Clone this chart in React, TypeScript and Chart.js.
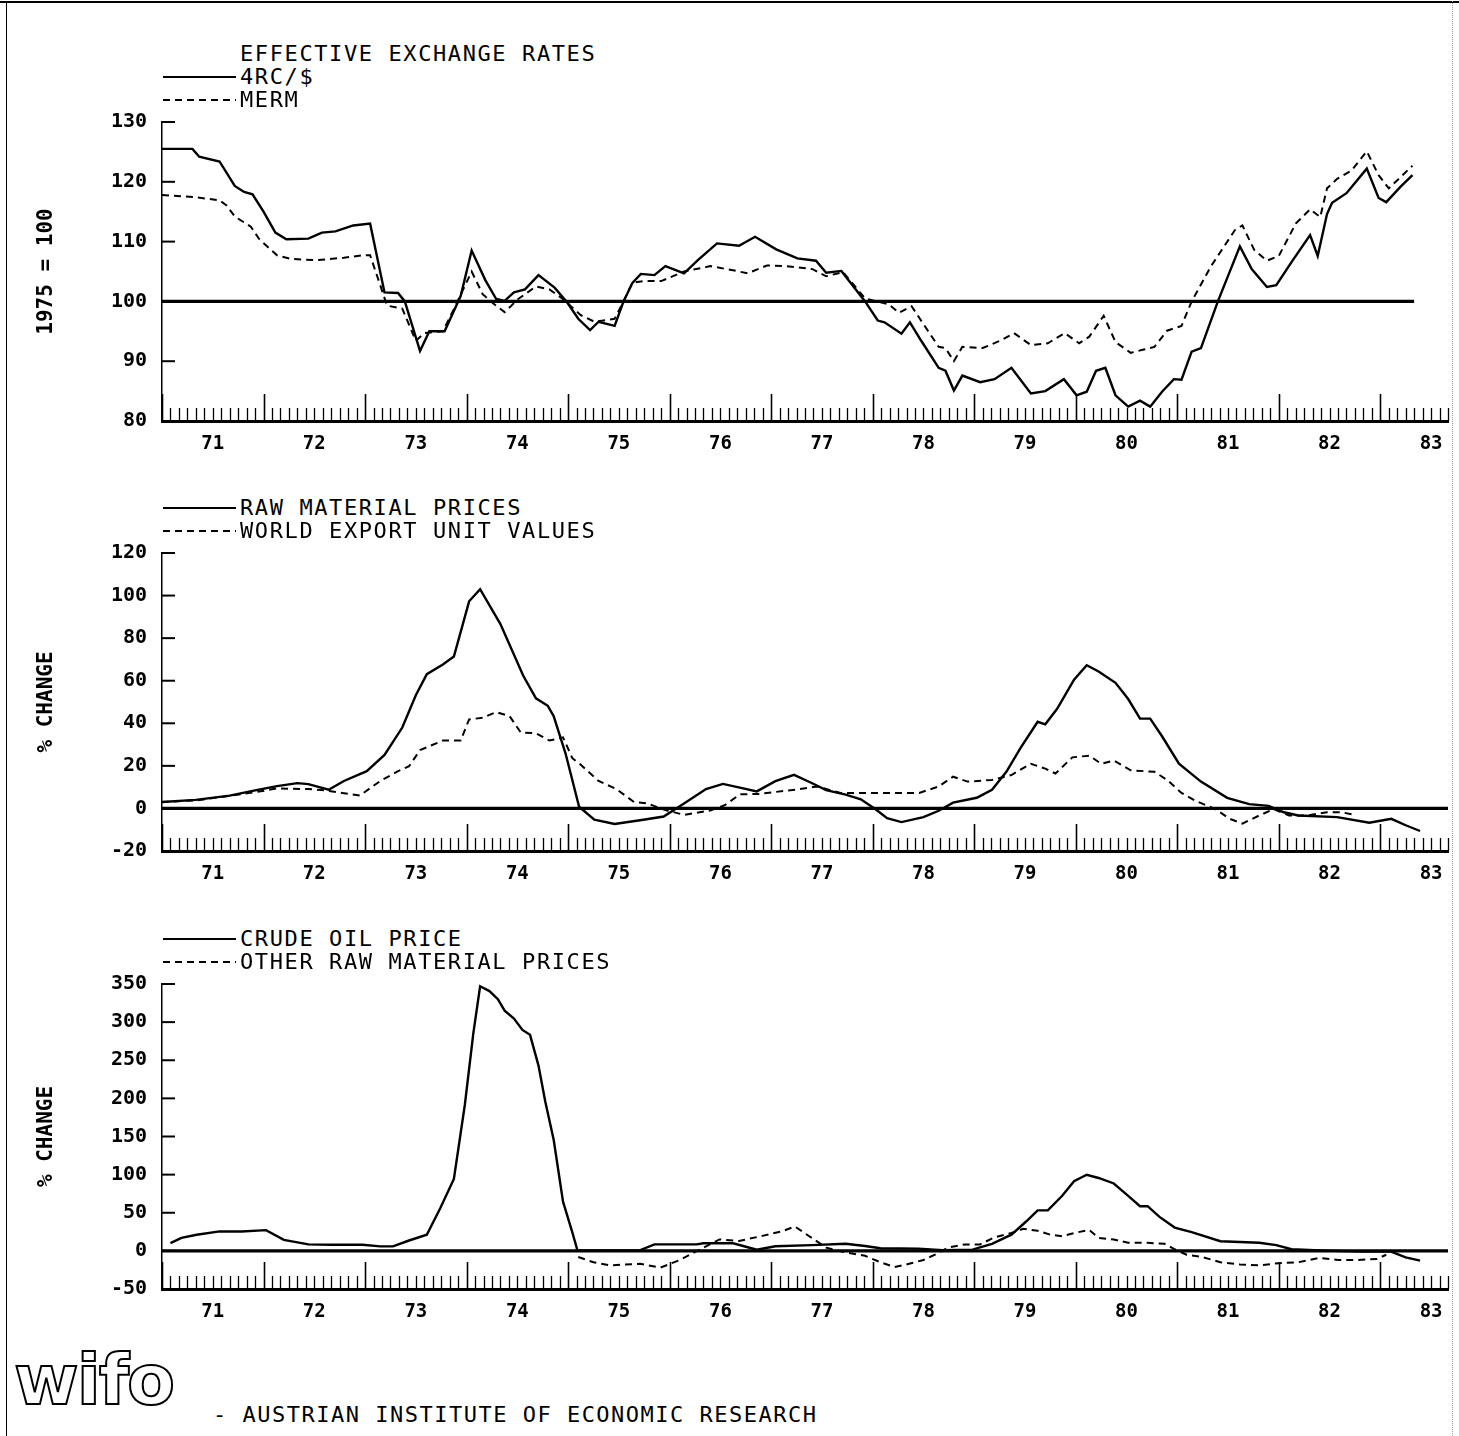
import React, { useEffect, useRef } from 'react';
import { Chart, registerables } from 'chart.js';

Chart.register(...registerables);

const FONT = '"DejaVu Sans Mono", "Liberation Mono", monospace';

// ---- x axis: months since January 1971 ----
const yearLabels = ['71', '72', '73', '74', '75', '76', '77', '78', '79', '80', '81', '82', '83'];
const xMaxMonth = 152;

// ---- Panel 1: effective exchange rates (1975 = 100) ----
const rcMonths = [0, 3.6, 4.4, 6.8, 8.6, 9.7, 10.7, 12.0, 13.4, 14.7, 17.3, 18.9, 20.5, 22.6, 24.6, 26.3, 27.9, 28.7, 30.5, 31.6, 33.4, 35.3, 36.6, 38.2, 39.5, 40.5, 41.6, 42.9, 44.5, 46.4, 47.9, 49.2, 50.6, 51.6, 53.5, 54.5, 55.6, 56.6, 58.2, 59.5, 61.7, 63.4, 65.6, 68.2, 70.1, 72.6, 75.1, 77.3, 78.5, 80.3, 83.1, 84.6, 85.4, 87.4, 88.4, 89.7, 91.8, 92.6, 93.6, 94.6, 96.7, 98.4, 100.4, 102.7, 104.4, 106.6, 108.1, 109.3, 110.4, 111.5, 112.7, 114.2, 115.6, 116.8, 118.2, 119.6, 120.5, 121.7, 122.8, 124.8, 127.4, 128.8, 130.6, 131.7, 133.7, 135.7, 136.6, 137.7, 138.3, 140.0, 142.4, 143.8, 144.7, 146.4, 147.8];
const rcValues = [125.5, 125.5, 124.2, 123.4, 119.3, 118.3, 117.9, 115.0, 111.5, 110.4, 110.5, 111.5, 111.7, 112.7, 113.0, 101.5, 101.4, 100.0, 91.7, 95.0, 95.0, 100.9, 108.5, 103.6, 100.4, 100.1, 101.5, 102.0, 104.4, 102.3, 99.8, 97.1, 95.2, 96.6, 95.9, 99.8, 103.1, 104.6, 104.4, 105.9, 104.7, 107.0, 109.7, 109.3, 110.8, 108.7, 107.2, 106.8, 104.8, 105.1, 100.0, 96.8, 96.5, 94.6, 96.5, 93.5, 88.9, 88.4, 85.1, 87.6, 86.5, 87.0, 88.9, 84.6, 85.0, 87.0, 84.3, 84.9, 88.4, 88.9, 84.3, 82.4, 83.4, 82.4, 84.9, 87.0, 86.9, 91.6, 92.2, 100.0, 109.2, 105.4, 102.4, 102.7, 107.0, 111.1, 107.6, 114.6, 116.5, 118.1, 122.2, 117.3, 116.6, 119.2, 121.1];

const mermMonths = [0, 4.1, 6.8, 7.6, 8.6, 10.5, 11.5, 13.6, 15.2, 18.4, 21.5, 23.7, 24.6, 25.2, 26.6, 28.4, 30.0, 31.0, 33.2, 34.7, 36.6, 37.9, 39.2, 40.5, 42.1, 44.2, 45.8, 47.4, 49.5, 51.1, 53.5, 54.3, 55.6, 56.9, 59.0, 61.7, 64.8, 67.5, 69.2, 71.5, 73.8, 76.9, 78.5, 80.5, 83.1, 85.9, 87.1, 88.6, 90.0, 91.8, 92.6, 93.6, 94.6, 97.0, 99.2, 100.7, 102.7, 104.7, 106.7, 108.4, 109.6, 111.3, 112.7, 114.5, 115.9, 117.3, 118.8, 120.5, 121.7, 124.0, 126.8, 127.7, 129.1, 130.6, 132.0, 134.0, 135.7, 136.9, 137.7, 138.9, 140.6, 142.4, 143.8, 145.0, 146.4, 147.8];
const mermValues = [117.8, 117.4, 116.9, 116.1, 114.2, 112.5, 110.4, 107.7, 107.1, 106.9, 107.3, 107.7, 107.7, 105.2, 99.3, 98.8, 93.4, 94.7, 95.0, 99.3, 105.0, 101.2, 99.6, 98.2, 100.4, 102.5, 102.0, 100.4, 97.7, 96.6, 97.1, 99.3, 103.1, 103.4, 103.4, 105.0, 105.9, 105.2, 104.7, 106.0, 105.9, 105.4, 104.2, 104.9, 100.5, 99.5, 98.1, 99.2, 96.2, 92.4, 92.2, 90.0, 92.4, 92.2, 93.5, 94.7, 92.7, 93.0, 94.7, 93.0, 94.1, 97.6, 93.2, 91.4, 91.9, 92.4, 95.1, 95.9, 100.0, 105.9, 111.9, 112.7, 108.6, 106.8, 107.6, 113.0, 115.4, 114.1, 118.9, 120.5, 121.9, 125.1, 121.1, 118.9, 120.8, 122.7];

const ref1Months = [0, 148];
const ref1Level = 100;

// ---- Panel 2: raw material prices vs world export unit values (% change) ----
const rawMonths = [0, 4, 8, 11, 13.6, 16.0, 17.3, 19.7, 21.5, 24.2, 26.3, 28.4, 30.0, 31.3, 33.2, 34.5, 36.3, 37.6, 40.0, 42.7, 44.2, 45.6, 46.3, 47.7, 49.3, 51.1, 53.5, 56.9, 59.3, 61.7, 64.3, 66.3, 68.3, 70.3, 72.5, 74.7, 76.6, 78.5, 80.8, 82.6, 84.3, 85.7, 87.4, 90.0, 91.8, 93.5, 96.3, 98.1, 99.8, 101.5, 103.5, 104.4, 105.8, 107.8, 109.3, 110.7, 112.7, 114.2, 115.6, 116.8, 118.2, 120.2, 122.8, 125.9, 128.5, 130.8, 132.6, 134.3, 138.9, 142.7, 145.3, 147.0, 148.7];
const rawValues = [3, 4, 6, 8.5, 10.5, 11.9, 11.4, 8.8, 12.9, 17.5, 25.1, 38.0, 53.2, 63.1, 67.6, 71.4, 97.3, 103.0, 86.6, 62.3, 51.7, 48.2, 43.3, 25.8, 0.8, -5.3, -7.3, -5.3, -3.8, 2.3, 9.1, 11.5, 9.8, 8.0, 12.8, 15.8, 12.3, 8.6, 6.5, 4.3, -0.3, -4.6, -6.4, -4.1, -1.1, 2.7, 5.0, 8.8, 17.2, 28.6, 40.7, 39.5, 46.8, 60.5, 67.3, 64.3, 59.0, 51.4, 42.2, 42.2, 33.9, 21.0, 12.6, 5.0, 2.0, 1.2, -1.8, -3.3, -4.1, -6.7, -4.9, -7.9, -10.6];

const wuvMonths = [0, 4.1, 7.8, 11.0, 13.6, 17.3, 19.4, 21.3, 23.4, 25.8, 27.9, 29.2, 30.5, 33.2, 35.3, 36.3, 37.9, 39.5, 41.1, 42.4, 44.2, 45.8, 47.4, 48.5, 49.5, 51.6, 53.7, 55.8, 57.4, 59.5, 61.7, 64.8, 66.5, 68.3, 70.5, 75.0, 77.4, 80.2, 83.1, 86.6, 89.5, 91.8, 93.5, 95.2, 98.1, 100.4, 102.7, 104.4, 105.6, 107.6, 109.6, 111.0, 112.5, 114.5, 117.3, 118.8, 120.5, 122.2, 124.5, 126.2, 127.7, 129.7, 131.4, 133.2, 135.4, 137.7, 139.4, 141.0];
const wuvValues = [3.0, 3.8, 5.8, 7.6, 9.4, 9.1, 8.4, 7.3, 6.1, 12.9, 17.5, 19.8, 27.4, 31.9, 31.9, 41.8, 42.6, 45.3, 43.3, 35.7, 35.3, 31.9, 33.4, 23.6, 20.5, 12.9, 9.1, 3.0, 2.3, -0.8, -3.0, -1.0, 1.5, 6.6, 6.8, 8.9, 10.3, 7.3, 7.3, 7.3, 7.3, 10.3, 14.9, 12.6, 13.4, 15.7, 21.0, 18.7, 16.4, 24.0, 24.8, 21.0, 22.5, 17.9, 17.2, 13.4, 7.3, 3.5, -0.3, -4.9, -7.1, -3.3, -0.3, -3.3, -3.3, -1.8, -1.8, -3.0];

const ref2Months = [0, 152];
const ref2Level = 0;

// ---- Panel 3: crude oil price vs other raw material prices (% change) ----
const oilMonths = [1, 2.3, 4.1, 6.8, 9.4, 12.3, 14.4, 17.3, 20.0, 23.7, 25.8, 27.3, 29.2, 31.3, 32.9, 34.5, 35.8, 36.8, 37.6, 38.7, 39.7, 40.5, 41.6, 42.6, 43.5, 44.5, 45.3, 46.3, 47.4, 48.5, 49.1, 56.4, 58.2, 63.2, 64.0, 67.5, 70.3, 72.5, 76.8, 80.8, 83.1, 84.9, 89.4, 92.3, 95.8, 98.1, 100.4, 102.1, 103.5, 104.7, 106.4, 107.8, 109.3, 110.7, 112.5, 114.2, 115.6, 116.5, 117.9, 119.7, 121.7, 125.1, 129.7, 131.7, 133.5, 138.3, 141.8, 145.2, 147.0, 148.7];
const oilValues = [10.2, 17, 21.2, 25.5, 25.5, 27.2, 14.4, 8.5, 8.1, 8.1, 5.9, 5.9, 13.6, 21.2, 56.1, 94.3, 192, 285.5, 347, 340.7, 330, 315, 304.6, 289.7, 283.3, 243, 196, 145.3, 64.6, 24.2, 0.8, 0.5, 8.5, 8.5, 10, 10, 1.5, 6, 7.6, 9.3, 6.4, 3.4, 3, 0.8, 1.7, 9.3, 21.2, 38.2, 53.1, 53.1, 72.2, 91.3, 99.8, 95.6, 88.4, 72.2, 58.6, 58.6, 44.6, 30.6, 24.6, 12.7, 10.6, 7.6, 2.1, 0, -0.8, -0.8, -8.5, -12.7];

const otherMonths = [49.2, 51.0, 53.0, 56.5, 58.9, 61.2, 63.6, 65.9, 68.2, 71.1, 73.4, 74.8, 76.8, 78.5, 80.8, 83.1, 84.9, 86.6, 88.3, 90.0, 91.5, 92.9, 94.9, 96.7, 98.4, 100.4, 101.8, 103.5, 105.0, 106.4, 107.8, 109.6, 110.7, 112.5, 114.2, 116.5, 118.5, 119.7, 121.1, 122.8, 125.1, 127.4, 129.7, 132.0, 134.3, 136.7, 139.0, 141.3, 143.6, 144.7];
const otherValues = [-8, -15, -19, -17, -22, -12, 2, 15, 13, 20, 26, 32, 17, 4.2, -2.1, -6.4, -14.9, -21.2, -17, -11.9, -4.2, 4.2, 8.5, 8.5, 17.8, 23.4, 28.9, 26.3, 21.2, 19.1, 23.4, 27.6, 17, 14.9, 10.6, 10.6, 9.3, 2.1, -5.1, -7.6, -14.9, -17.8, -19.1, -16.1, -14.9, -9.3, -11.9, -11.9, -10.6, -5.1];

const ref3Months = [0, 152];
const ref3Level = 0;

// ---- Texts ----
const panel1Title = 'EFFECTIVE EXCHANGE RATES';
const panel1Legend = ['4RC/$', 'MERM'];
const panel2Legend = ['RAW MATERIAL PRICES', 'WORLD EXPORT UNIT VALUES'];
const panel3Legend = ['CRUDE OIL PRICE', 'OTHER RAW MATERIAL PRICES'];
const footerText = '- AUSTRIAN INSTITUTE OF ECONOMIC RESEARCH';

const pts = (ms: number[], vs: number[]) => ms.map((m, i) => ({ x: m, y: vs[i] }));
const flat = (ms: number[], level: number) => ms.map((m) => ({ x: m, y: level }));

const tickPlugin = {
  id: 'plotterTicks',
  afterDraw(chart: any) {
    const { ctx, chartArea } = chart;
    const xs = chart.scales.x;
    const ys = chart.scales.y;
    ctx.save();
    ctx.strokeStyle = '#000';
    ctx.lineCap = 'butt';
    for (let m = 0; m <= xMaxMonth; m++) {
      const px = Math.round(xs.getPixelForValue(m)) + 0.5;
      const major = m % 12 === 0;
      ctx.lineWidth = major ? 1.6 : 1.3;
      ctx.beginPath();
      ctx.moveTo(px, chartArea.bottom);
      ctx.lineTo(px, chartArea.bottom - (major ? 27 : 13));
      ctx.stroke();
    }
    ctx.lineWidth = 2;
    ys.ticks.forEach((t: any) => {
      const py = ys.getPixelForValue(t.value);
      ctx.beginPath();
      ctx.moveTo(chartArea.left, py);
      ctx.lineTo(chartArea.left + 13, py);
      ctx.stroke();
    });
    ctx.restore();
  },
};

type Series = { data: { x: number; y: number }[]; dashed?: boolean; width?: number };

type PanelCfg = {
  canvasTop: number;
  canvasH: number;
  padTop: number;
  yMin: number;
  yMax: number;
  yStep: number;
  yTitle: string;
  series: Series[];
};

function Panel({ cfg }: { cfg: PanelCfg }) {
  const ref = useRef<HTMLCanvasElement>(null);
  useEffect(() => {
    const chart = new Chart(ref.current as HTMLCanvasElement, {
      type: 'line',
      data: {
        datasets: cfg.series.map((s) => ({
          data: s.data,
          borderColor: '#000',
          backgroundColor: '#000',
          borderWidth: s.width ?? (s.dashed ? 2 : 2.4),
          borderDash: s.dashed ? [7, 5] : [],
          pointRadius: 0,
          tension: 0,
          fill: false,
        })),
      },
      options: {
        animation: false,
        responsive: false,
        devicePixelRatio: 1,
        events: [],
        layout: { autoPadding: false, padding: { left: 0, right: 11, top: cfg.padTop, bottom: 0 } },
        plugins: { legend: { display: false }, tooltip: { enabled: false } },
        scales: {
          x: {
            type: 'linear',
            min: 0,
            max: xMaxMonth,
            afterFit: (s: any) => { s.height = 40; },
            afterBuildTicks: (s: any) => {
              s.ticks = yearLabels.map((_, i) => ({ value: 6 + 12 * i }));
            },
            ticks: {
              autoSkip: false,
              maxRotation: 0,
              padding: 12,
              color: '#000',
              font: { family: FONT, size: 19, weight: 'bold' },
              callback: (v: any) => yearLabels[Math.floor(Number(v) / 12)] ?? '',
            },
            grid: { display: true, drawOnChartArea: false, drawTicks: false },
            border: { display: true, color: '#000', width: 3 },
          },
          y: {
            type: 'linear',
            min: cfg.yMin,
            max: cfg.yMax,
            afterFit: (s: any) => { s.width = 162; },
            ticks: {
              stepSize: cfg.yStep,
              padding: 15,
              color: '#000',
              font: { family: FONT, size: 20, weight: 'bold' },
            },
            grid: { display: true, drawOnChartArea: false, drawTicks: false },
            border: { display: true, color: '#000', width: 1.5 },
            title: {
              display: true,
              text: cfg.yTitle,
              color: '#000',
              font: { family: FONT, size: 21, weight: 'bold' },
              padding: { top: 34, bottom: 0 },
            },
          },
        },
      },
      plugins: [tickPlugin],
    } as any);
    return () => chart.destroy();
  }, []);
  return (
    <canvas
      ref={ref}
      width={1459}
      height={cfg.canvasH}
      style={{ position: 'absolute', left: 0, top: cfg.canvasTop, width: 1459, height: cfg.canvasH }}
    />
  );
}

const textStyle: React.CSSProperties = {
  position: 'absolute',
  fontFamily: FONT,
  fontSize: 22,
  lineHeight: '22px',
  letterSpacing: '1.6px',
  whiteSpace: 'nowrap',
  color: '#000',
};

function LegendRow({ y, label, dashed }: { y: number; label: string; dashed?: boolean }) {
  return (
    <>
      <svg style={{ position: 'absolute', left: 160, top: y - 4, width: 80, height: 8 }}>
        <line x1={3} y1={4} x2={76} y2={4} stroke="#000" strokeWidth={2} strokeDasharray={dashed ? '7 5' : undefined} />
      </svg>
      <div style={{ ...textStyle, left: 240, top: y - 11 }}>{label}</div>
    </>
  );
}

const panels: PanelCfg[] = [
  {
    canvasTop: 95, canvasH: 366, padTop: 18, yMin: 80, yMax: 130, yStep: 10, yTitle: '1975 = 100',
    series: [
      { data: pts(rcMonths, rcValues) },
      { data: pts(mermMonths, mermValues), dashed: true },
      { data: flat(ref1Months, ref1Level), width: 3.2 },
    ],
  },
  {
    canvasTop: 526, canvasH: 365, padTop: 18, yMin: -20, yMax: 120, yStep: 20, yTitle: '% CHANGE',
    series: [
      { data: pts(rawMonths, rawValues) },
      { data: pts(wuvMonths, wuvValues), dashed: true },
      { data: flat(ref2Months, ref2Level), width: 3.2 },
    ],
  },
  {
    canvasTop: 957, canvasH: 372, padTop: 18, yMin: -50, yMax: 350, yStep: 50, yTitle: '% CHANGE',
    series: [
      { data: pts(oilMonths, oilValues) },
      { data: pts(otherMonths, otherValues), dashed: true },
      { data: flat(ref3Months, ref3Level), width: 3.2 },
    ],
  },
];

export default function App() {
  return (
    <div style={{ position: 'fixed', left: 0, top: 0, width: 1459, height: 1436, background: '#fff', overflow: 'hidden' }}>
      <div style={{ position: 'absolute', left: 0, top: 1, width: 1459, height: 0, borderTop: '2px solid #000' }} />
      <div style={{ position: 'absolute', left: 6, top: 1, width: 0, height: 1435, borderLeft: '1.5px solid #000' }} />
      <div style={{ position: 'absolute', left: 1452, top: 1, width: 0, height: 1435, borderLeft: '1px dotted #999' }} />

      {panels.map((p, i) => <Panel key={i} cfg={p} />)}

      <div style={{ ...textStyle, left: 240, top: 54 - 11 }}>{panel1Title}</div>
      <LegendRow y={77} label={panel1Legend[0]} />
      <LegendRow y={100} label={panel1Legend[1]} dashed />

      <LegendRow y={508} label={panel2Legend[0]} />
      <LegendRow y={531} label={panel2Legend[1]} dashed />

      <LegendRow y={939} label={panel3Legend[0]} />
      <LegendRow y={962} label={panel3Legend[1]} dashed />

      <div
        style={{
          position: 'absolute', left: 14, top: 1340, fontFamily: '"DejaVu Sans", sans-serif', fontSize: 70,
          fontWeight: 700, lineHeight: '80px', color: '#fff', WebkitTextStroke: '2px #000', letterSpacing: '-2px',
        }}
      >
        wifo
      </div>
      <div style={{ ...textStyle, left: 213, top: 1415 - 11, letterSpacing: '1.5px' }}>{footerText}</div>
    </div>
  );
}
